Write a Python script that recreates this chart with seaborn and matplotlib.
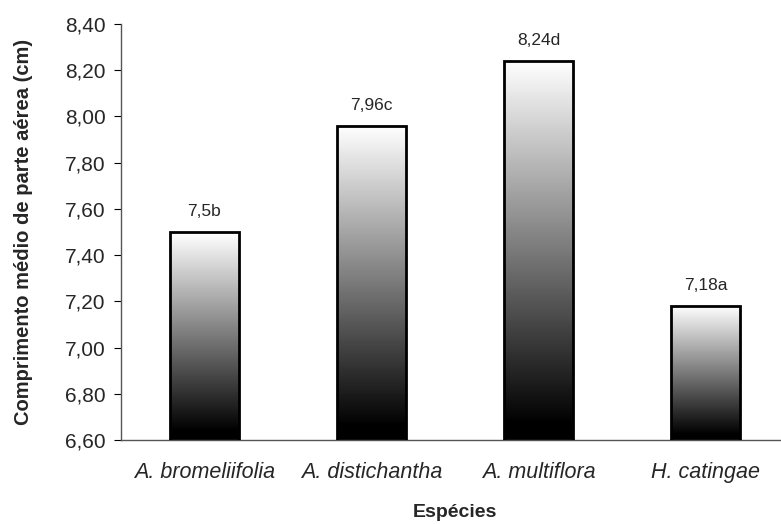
import numpy as np
import pandas as pd
import matplotlib
matplotlib.use('Agg')
import matplotlib.pyplot as plt
import seaborn as sns

# Dados
especies = ['A. bromeliifolia', 'A. distichantha', 'A. multiflora', 'H. catingae']
comprimento = [7.50, 7.96, 8.24, 7.18]
rotulos = ['7,5b', '7,96c', '8,24d', '7,18a']
yticks = [6.60, 6.80, 7.00, 7.20, 7.40, 7.60, 7.80, 8.00, 8.20, 8.40]

sns.set_style('white')
plt.rcParams['font.family'] = ['Liberation Sans', 'DejaVu Sans']

df = pd.DataFrame({'especie': especies, 'valor': comprimento})

fig = plt.figure(figsize=(7.81, 5.24), dpi=100)
ax = fig.add_axes([121 / 781, 84 / 524, 668 / 781, 416 / 524])

sns.barplot(data=df, x='especie', y='valor', ax=ax, width=0.41,
            color='white', edgecolor='black', linewidth=2)
ax.set_ylim(6.60, 8.40)
ax.set_xlim(-0.5, 3.5)

# gradiente branco (topo) -> preto (base)
grad = np.linspace(0, 1, 256).reshape(-1, 1)
for p in ax.patches:
    x0, y0 = p.get_x(), p.get_y()
    w, h = p.get_width(), p.get_height()
    im = ax.imshow(grad, cmap='gray', aspect='auto', vmin=0.04, vmax=1.0,
                   extent=[x0, x0 + w, 6.60, y0 + h], origin='lower',
                   zorder=p.get_zorder() - 0.1)
    im.set_clip_path(p)
    p.set_facecolor('none')
    p.set_zorder(3)

for i, (v, r) in enumerate(zip(comprimento, rotulos)):
    ax.text(i, v + 0.055, r, ha='center', va='bottom', fontsize=12.5)

ax.set_yticks(yticks)
ax.set_yticklabels([f'{t:.2f}'.replace('.', ',') for t in yticks], fontsize=15)
ax.set_xticks(range(len(especies)))
ax.set_xticklabels(especies, fontsize=15.5, style='italic')
ax.set_xticks([0.5, 1.5, 2.5], minor=True)
ax.tick_params(axis='x', which='major', length=0, pad=16)
ax.tick_params(axis='x', which='minor', length=5, color='black', width=0.8, direction='out')
ax.tick_params(axis='y', length=5, color='black', width=0.8, direction='out', pad=6, left=True)

for s in ['top', 'right']:
    ax.spines[s].set_visible(False)
for s in ['left', 'bottom']:
    ax.spines[s].set_color('#555555')
    ax.spines[s].set_linewidth(1)

ax.set_xlabel('Espécies', fontsize=14, fontweight='bold', labelpad=15)
ax.set_ylabel('Comprimento médio de parte aérea (cm)', fontsize=14.5, fontweight='bold', labelpad=23)

fig.savefig('out.png', dpi=100)
